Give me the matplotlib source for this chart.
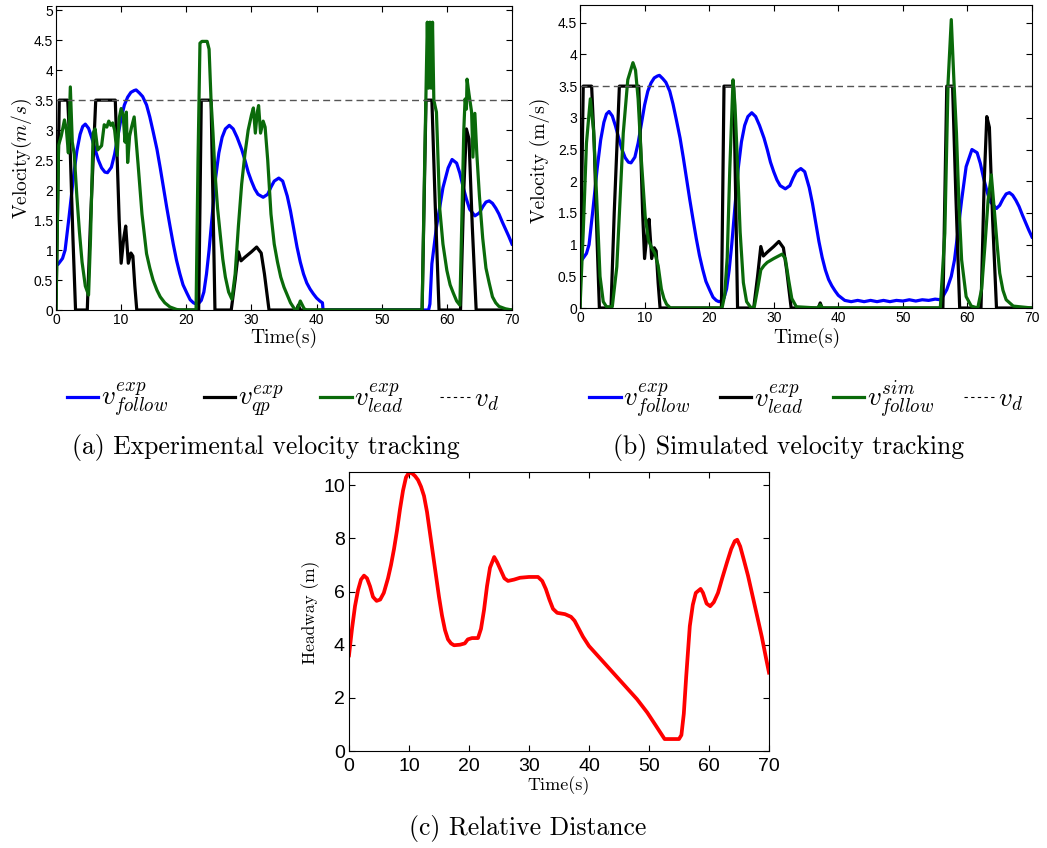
import numpy as np
import matplotlib
matplotlib.use("Agg")
import matplotlib.pyplot as plt
from matplotlib.lines import Line2D

plt.rcParams['mathtext.fontset'] = 'cm'
plt.rcParams['font.family'] = ['Liberation Sans', 'DejaVu Sans']

# follower velocity, experiment (shared shape up to ~40 s)
follow_t = [0, 0.3, 1, 1.4, 2, 2.66, 3.2, 3.7, 4.1, 4.5, 5, 5.5, 6, 6.5, 7, 7.5, 7.9, 8.5, 9,
            9.5, 10, 10.5, 11, 11.5, 12, 12.3, 12.8, 13.3, 13.9, 14.4, 14.9, 15.5, 16, 16.5,
            17, 17.5, 18, 18.5, 19, 19.5, 20.1, 20.6, 21.1, 21.5, 21.9, 22.3, 22.7, 23.1,
            23.5, 24, 24.5, 25, 25.5, 26, 26.6, 27.2, 27.8, 28.5, 29, 29.5, 30, 30.5, 31, 31.8,
            32.5, 33, 33.5, 34.2, 34.8, 35.5, 36, 36.5, 37, 37.5, 38, 38.5, 39, 39.5, 40]
follow_v = [0.75, 0.76, 0.86, 1.0, 1.55, 2.2, 2.65, 2.93, 3.06, 3.1, 3.03, 2.87, 2.68, 2.5,
            2.37, 2.3, 2.29, 2.38, 2.6, 2.9, 3.2, 3.42, 3.55, 3.63, 3.66, 3.67, 3.62, 3.56,
            3.42, 3.22, 2.98, 2.68, 2.37, 2.04, 1.71, 1.4, 1.1, 0.83, 0.61, 0.42, 0.28, 0.17,
            0.12, 0.1, 0.11, 0.16, 0.3, 0.6, 1.0, 1.6, 2.2, 2.62, 2.88, 3.02, 3.08, 3.02, 2.88,
            2.68, 2.5, 2.3, 2.15, 2.02, 1.93, 1.88, 1.93, 2.05, 2.15, 2.2, 2.15, 1.9, 1.65,
            1.35, 1.05, 0.8, 0.6, 0.45, 0.35, 0.27, 0.2]

# experiment tail: vehicle stops, then restarts near 57 s
follow_exp_tail_t = [40.5, 40.9, 41.0, 57.2, 57.4, 57.7, 58.4, 59.4, 60.2, 60.8, 61.5, 62, 62.5,
                     63, 63.5, 64.3, 65, 65.5, 66, 66.5, 67, 67.5, 68, 68.5, 69, 69.5, 70]
follow_exp_tail_v = [0.15, 0.12, 0.0, 0.0, 0.1, 0.77, 1.38, 2.04, 2.37, 2.51, 2.45, 2.28, 2.05,
                     1.85, 1.68, 1.57, 1.62, 1.72, 1.8, 1.82, 1.78, 1.7, 1.6, 1.47, 1.35, 1.23,
                     1.1]

# simulation-side tail: follower keeps creeping at ~0.1 m/s
follow_sim_tail_t = [40.5, 41, 42, 43, 44, 45, 46, 47, 48, 49, 50, 51, 52, 53, 54, 55, 55.8,
                     56.2, 56.8, 57.5, 58, 58.5, 59.1, 59.8, 60.7, 61.5, 62, 62.5, 63, 63.5,
                     64.5, 65, 65.5, 66, 66.5, 67, 67.5, 68, 68.5, 69, 69.5, 70]
follow_sim_tail_v = [0.16, 0.12, 0.1, 0.12, 0.1, 0.12, 0.1, 0.12, 0.1, 0.12, 0.11, 0.13, 0.11,
                     0.13, 0.12, 0.14, 0.13, 0.18, 0.29, 0.5, 0.76, 1.18, 1.7, 2.23, 2.5, 2.45,
                     2.28, 2.05, 1.85, 1.68, 1.57, 1.62, 1.72, 1.8, 1.82, 1.78, 1.7, 1.6, 1.47,
                     1.35, 1.23, 1.12]

# commanded / leader velocity (black)
cmd_t = [0, 0.5, 1.8, 2.2, 2.6, 3.0, 4.8, 5.3, 6.1, 9.1, 9.4, 9.7, 10.0, 10.4, 10.7, 11.1,
         11.5, 11.8, 12.1, 12.4, 21.9, 22.3, 23.8, 24.1, 24.4, 26.9, 27.5, 28.0, 28.4, 29.0,
         30.0, 30.8, 31.5, 32.0, 32.7, 36.9, 37.2, 37.5, 56.2, 56.8, 57.7, 58.2, 58.8, 62.1,
         62.6, 63.0, 63.4, 63.9, 64.5, 70]
cmd_v = [0, 3.5, 3.5, 2.6, 1.2, 0, 0, 1.5, 3.5, 3.5, 2.5, 1.5, 0.78, 1.2, 1.4, 0.78, 0.95,
         0.9, 0.4, 0, 0, 3.5, 3.5, 1.8, 0, 0, 0.5, 0.97, 0.82, 0.88, 0.97, 1.05, 0.95, 0.6, 0,
         0, 0.08, 0, 0, 3.5, 3.5, 1.8, 0, 0, 2.0, 3.02, 2.85, 1.4, 0, 0]

# leader velocity, experiment (green, panel a)
lead_t = [0, 0.4, 0.8, 1.3, 1.6, 1.9, 2.2, 2.5, 2.8, 3.2, 3.6, 4.0, 4.5, 5.0, 5.3, 5.7, 6.0,
          6.4, 7.0, 7.4, 7.8, 8.1, 8.4, 8.7, 9.0, 9.4, 9.7, 10.0, 10.3, 10.6, 10.8, 11.0, 11.3,
          11.6, 12.0, 12.6, 13.2, 13.9, 14.4, 14.9, 15.5, 16.0, 16.7, 17.5, 18.5, 19.0,
          21.5, 21.8, 22.1, 22.4, 23.2, 23.5, 23.8, 24.1, 24.4, 24.8, 25.2, 25.6, 26.0, 26.5,
          27.0, 27.5, 28.0, 28.5, 29.0, 29.5, 30.0, 30.3, 30.6, 30.9, 31.1, 31.4, 31.8, 32.1,
          32.5, 33.0, 33.5, 34.0, 34.5, 35.0, 35.5, 36.0, 36.6, 37.0, 37.5, 38.1, 38.5, 56.2,
          56.6, 57.0, 57.2, 57.4, 57.6, 57.8, 58.0, 58.4, 58.9, 59.4, 60.0, 60.5, 61.0, 61.5,
          62.0, 62.3, 62.6, 62.8, 63.0, 63.1, 63.4, 63.8, 64.0, 64.3, 64.6, 65.0, 65.5, 66.0,
          66.5, 67.0, 67.5, 68.0, 69.0, 70.0]
lead_v = [0, 2.75, 2.9, 3.17, 3.0, 2.62, 3.72, 2.8, 2.6, 1.9, 1.3, 0.8, 0.4, 0.25, 1.2, 2.95,
          3.02, 2.67, 2.74, 3.09, 3.05, 3.15, 3.08, 3.12, 3.0, 2.58, 3.2, 3.36, 3.25, 2.8, 3.3,
          2.46, 2.9, 3.05, 3.22, 2.43, 1.6, 0.94, 0.7, 0.5, 0.33, 0.22, 0.12, 0.05, 0.01,
          0, 0, 2.5, 4.45, 4.48, 4.48, 4.35, 3.5, 2.95, 2.3, 1.7, 1.27, 0.85, 0.55, 0.3, 0.18,
          0.6, 1.4, 2.1, 2.6, 3.0, 3.25, 3.37, 2.95, 3.3, 3.41, 2.95, 3.15, 3.05, 2.5, 1.6,
          1.1, 0.8, 0.55, 0.38, 0.25, 0.12, 0.02, 0.0, 0.15, 0.02, 0, 0, 2.5, 4.8, 3.7, 4.8,
          3.7, 4.8, 3.5, 3.3, 1.7, 1.1, 0.66, 0.42, 0.28, 0.15, 0.08, 1.5, 3.0, 3.52, 3.35,
          3.85, 3.6, 3.3, 2.55, 3.28, 2.6, 1.9, 1.2, 0.7, 0.45, 0.22, 0.12, 0.06, 0.02, 0]

# follower velocity, simulation (green, panel b)
sim_t = [0, 0.5, 1.0, 1.6, 2.1, 2.6, 3.1, 3.6, 4.1, 5.0, 5.7, 6.2, 6.7, 7.4, 8.2, 8.6, 9.0,
         9.5, 10.1, 10.6, 11.1, 11.6, 12.1, 12.6, 13.0, 13.4, 14.0, 22.0, 22.4, 22.8, 23.2,
         23.7, 24.0, 24.3, 24.8, 25.3, 25.8, 26.5, 27.0, 27.5, 28.0, 28.5, 29.0, 30.0, 31.3,
         31.8, 32.3, 32.8, 33.5, 36.8, 37.2, 37.6, 55.8, 56.5, 57.0, 57.5, 57.9, 58.3, 58.7,
         59.1, 59.8, 60.6, 61.6, 62.2, 62.7, 63.2, 63.7, 64.2, 64.6, 65.0, 65.5, 66.0, 67.1,
         70]
sim_v = [0, 1.2, 2.6, 3.3, 2.8, 1.7, 0.5, 0.1, 0.02, 0.02, 0.65, 1.7, 2.76, 3.6, 3.87, 3.75,
         3.3, 2.34, 1.44, 1.07, 0.95, 0.86, 0.67, 0.3, 0.15, 0.06, 0, 0, 0.2, 0.8, 2.2, 3.6,
         3.2, 2.5, 1.2, 0.4, 0.1, 0.0, 0.02, 0.3, 0.6, 0.67, 0.72, 0.78, 0.85, 0.78, 0.45,
         0.15, 0.02, 0, 0.05, 0, 0, 1.18, 3.55, 4.55, 3.6, 2.76, 1.6, 0.76, 0.18, 0.03, 0,
         0.3, 0.97, 1.7, 2.1, 1.5, 1.0, 0.55, 0.28, 0.13, 0.03, 0]

desired_v = 3.5

# relative distance between vehicles
gap_t = [0, 0.5, 1, 1.5, 2, 2.5, 3, 3.5, 4, 4.6, 5.2, 5.8, 6.5, 7, 7.5, 8, 8.5, 9, 9.5, 10,
         10.5, 11, 11.5, 12, 12.5, 13, 13.5, 14, 14.5, 15, 15.5, 16, 16.5, 17, 17.5, 18.5,
         19.3, 19.8, 20.5, 21.5, 22, 22.5, 23, 23.5, 24.2, 24.7, 25.3, 25.9, 26.5, 27.5, 28.5,
         30, 31.5, 32.2, 32.8, 33.4, 34, 34.7, 36, 37, 37.6, 38.3, 39, 40, 42, 44, 46, 48,
         49.7, 51.3, 52.6, 54.5, 55.0, 55.4, 55.8, 56.2, 56.8, 57.3, 57.8, 58.6, 59.0, 59.6,
         60.2, 60.8, 61.5, 62.2, 63, 63.7, 64.3, 64.7, 65.2, 65.8, 66.5, 67.2, 68, 68.8,
         69.5, 70]
gap_v = [3.6, 4.6, 5.45, 6.05, 6.45, 6.6, 6.5, 6.2, 5.8, 5.65, 5.7, 5.95, 6.5, 7.0, 7.6, 8.3,
         9.1, 9.8, 10.3, 10.48, 10.45, 10.35, 10.2, 9.95, 9.6, 9.0, 8.2, 7.4, 6.6, 5.8, 5.1,
         4.55, 4.2, 4.05, 3.98, 4.0, 4.05, 4.2, 4.25, 4.25, 4.6, 5.3, 6.2, 6.9, 7.3, 7.1,
         6.8, 6.5, 6.4, 6.45, 6.52, 6.55, 6.55, 6.4, 6.1, 5.7, 5.35, 5.2, 5.15, 5.05, 4.9,
         4.6, 4.3, 3.95, 3.45, 2.95, 2.45, 1.95, 1.45, 0.9, 0.45, 0.45, 0.45, 0.6, 1.4, 2.8,
         4.7, 5.5, 5.95, 6.1, 5.95, 5.55, 5.45, 5.6, 5.95, 6.5, 7.1, 7.6, 7.9, 7.95, 7.7, 7.2,
         6.6, 5.9, 5.1, 4.3, 3.5, 2.95]

BLUE = '#0000ff'
GREEN = '#0a6a0a'
RED = '#ff0000'
LW = 2.3
SERIF = 'cmr10'


def style_axes(ax, size):
    ax.tick_params(direction='in', top=True, right=True, length=4, labelsize=size, pad=2)
    for s in ax.spines.values():
        s.set_linewidth(0.8)


fig = plt.figure(figsize=(10.47, 8.48), dpi=100)

# (a) experimental velocity tracking
ax_a = fig.add_axes([56 / 1047, 1 - 310 / 848, 456 / 1047, 304 / 848])
ax_a.plot(follow_t + follow_exp_tail_t, follow_v + follow_exp_tail_v, color=BLUE, lw=LW)
ax_a.plot(cmd_t, cmd_v, color='black', lw=LW)
ax_a.plot(lead_t, lead_v, color=GREEN, lw=LW)
ax_a.axhline(desired_v, color='#555555', lw=1, ls=(0, (5, 3)))
ax_a.set_xlim(0, 70)
ax_a.set_ylim(0, 5.07)
ax_a.set_xticks(np.arange(0, 71, 10))
ax_a.set_yticks(np.arange(0, 5.01, 0.5))
ax_a.set_yticklabels(['0', '0.5', '1', '1.5', '2', '2.5', '3', '3.5', '4', '4.5', '5'])
style_axes(ax_a, 10)

# (b) simulated velocity tracking
ax_b = fig.add_axes([580 / 1047, 1 - 308 / 848, 452 / 1047, 303 / 848])
ax_b.plot(follow_t + follow_sim_tail_t, follow_v + follow_sim_tail_v, color=BLUE, lw=LW)
ax_b.plot(cmd_t, cmd_v, color='black', lw=LW)
ax_b.plot(sim_t, sim_v, color=GREEN, lw=LW)
ax_b.axhline(desired_v, color='#555555', lw=1, ls=(0, (5, 3)))
ax_b.set_xlim(0, 70)
ax_b.set_ylim(0, 4.78)
ax_b.set_xticks(np.arange(0, 71, 10))
ax_b.set_yticks(np.arange(0, 4.51, 0.5))
ax_b.set_yticklabels(['0', '0.5', '1', '1.5', '2', '2.5', '3', '3.5', '4', '4.5'])
style_axes(ax_b, 10)

# (c) headway
ax_c = fig.add_axes([349 / 1047, 1 - 751 / 848, 420 / 1047, 279 / 848])
ax_c.plot(gap_t, gap_v, color=RED, lw=LW + 0.4)
ax_c.set_xlim(0, 70)
ax_c.set_ylim(0, 10.5)
ax_c.set_xticks(np.arange(0, 71, 10))
ax_c.set_yticks(np.arange(0, 11, 2))
style_axes(ax_c, 14)
ax_c.tick_params(axis='x', pad=5)
ax_c.tick_params(axis='y', pad=3)

# axis labels
fig.text(284 / 1047, 1 - 338 / 848, 'Time(s)', family=SERIF, fontsize=14, ha='center', va='center')
fig.text(807 / 1047, 1 - 338 / 848, 'Time(s)', family=SERIF, fontsize=14, ha='center', va='center')
fig.text(559 / 1047, 1 - 786 / 848, 'Time(s)', family=SERIF, fontsize=13, ha='center', va='center')
fig.text(22 / 1047, 1 - 158 / 848, r'Velocity$(m/s)$', family=SERIF, fontsize=14,
         rotation=90, ha='center', va='center')
fig.text(540 / 1047, 1 - 160 / 848, 'Velocity (m/s)', family=SERIF, fontsize=14,
         rotation=90, ha='center', va='center')
fig.text(311 / 1047, 1 - 612 / 848, 'Headway (m)', family=SERIF, fontsize=12.5,
         rotation=90, ha='center', va='center')

# legends
def legend_handles():
    return [Line2D([], [], color=BLUE, lw=LW),
            Line2D([], [], color='black', lw=LW),
            Line2D([], [], color=GREEN, lw=LW),
            Line2D([], [], color='black', lw=0.8, ls=(0, (3, 3)))]

leg_kw = dict(ncol=4, frameon=False, fontsize=19.5, handlelength=1.15, handletextpad=0.1,
              loc='center')
fig.legend(legend_handles(),
           [r'$v_{follow}^{exp}$', r'$v_{qp}^{exp}$', r'$v_{lead}^{exp}$', r'$v_d$'],
           bbox_to_anchor=(283 / 1047, 1 - 400 / 848), columnspacing=1.35, **leg_kw)
fig.legend(legend_handles(),
           [r'$v_{follow}^{exp}$', r'$v_{lead}^{exp}$', r'$v_{follow}^{sim}$', r'$v_d$'],
           bbox_to_anchor=(806 / 1047, 1 - 400 / 848), columnspacing=1.1, **leg_kw)

# sub-captions
fig.text(266 / 1047, 1 - 447 / 848, '(a) Experimental velocity tracking', family=SERIF,
         fontsize=18.5, ha='center', va='center')
fig.text(789 / 1047, 1 - 447 / 848, '(b) Simulated velocity tracking', family=SERIF,
         fontsize=18.5, ha='center', va='center')
fig.text(528 / 1047, 1 - 828 / 848, '(c) Relative Distance', family=SERIF,
         fontsize=18.5, ha='center', va='center')

fig.savefig('out.png', dpi=100)
